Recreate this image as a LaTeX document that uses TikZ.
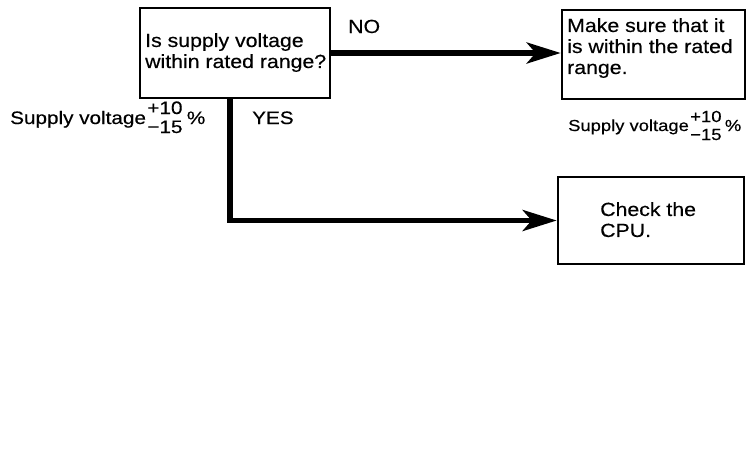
\documentclass[tikz,border=0pt]{standalone}
\usepackage{fontspec}
\setmainfont{Liberation Sans}[FakeStretch=1.12,FakeBold=0.4]
\newfontfamily\lblfont{Liberation Sans}[FakeStretch=1.15,FakeBold=0.4]
\usetikzlibrary{arrows.meta}
\begin{document}
\begin{tikzpicture}[x=1pt,y=-1pt,
  box/.style={draw, line width=2.6pt, inner sep=0pt},
  txt/.style={inner sep=0pt, align=left, font=\fontsize{19}{21}\selectfont},
  lbl/.style={inner sep=0pt, font=\lblfont\fontsize{18}{20}\selectfont},
  lbls/.style={inner sep=0pt, font=\lblfont\fontsize{16}{18}\selectfont},
  flow/.style={line width=5.5pt, -{Stealth[length=34pt,width=21pt,inset=9pt]}}]
\useasboundingbox (0,0) rectangle (751,459);
% boxes
\node[box, minimum width=190pt, minimum height=90pt] (q) at (235,53) {};
\node[box, minimum width=183pt, minimum height=89pt] (m) at (653.5,54.5) {};
\node[box, minimum width=186pt, minimum height=87pt] (c) at (651,220.5) {};
% box texts
\node[txt, anchor=north west] (qt) at (145,33) {Is supply voltage\\within rated range?};
\node[txt, anchor=north west] (mt) at (567,18) {Make sure that it\\is within the rated\\range.};
\node[txt, anchor=north west] (ct) at (600,202) {Check the\\CPU.};
% connectors
\draw[flow] (q.east) -- (q.east -| m.west);
\coordinate (qs) at (230,98);
\draw[flow] (qs) |- (c.west);
% labels
\node[txt, anchor=base west] (no) at (348,33) {NO};
\node[lbl, anchor=base west] (yes) at (252,124) {YES};
% left supply voltage
\node[lbl, anchor=base west] (sv1) at (10,124) {Supply voltage};
\node[lbl, anchor=base west] (p1) at ([xshift=1pt,yshift=10pt]sv1.base east) {+10};
\node[lbl, anchor=base west] (n1) at ([xshift=1pt,yshift=-9pt]sv1.base east) {−15};
\node[lbl, anchor=base west] (pc1) at ([xshift=4pt,yshift=-10pt]p1.base east) {\%};
% right supply voltage
\node[lbls, anchor=base west] (sv2) at (568,131) {Supply voltage};
\node[lbls, anchor=base west] (p2) at ([xshift=1pt,yshift=9pt]sv2.base east) {+10};
\node[lbls, anchor=base west] (n2) at ([xshift=1pt,yshift=-9pt]sv2.base east) {−15};
\node[lbls, anchor=base west] (pc2) at ([xshift=3pt,yshift=-9pt]p2.base east) {\%};
\end{tikzpicture}
\end{document}
